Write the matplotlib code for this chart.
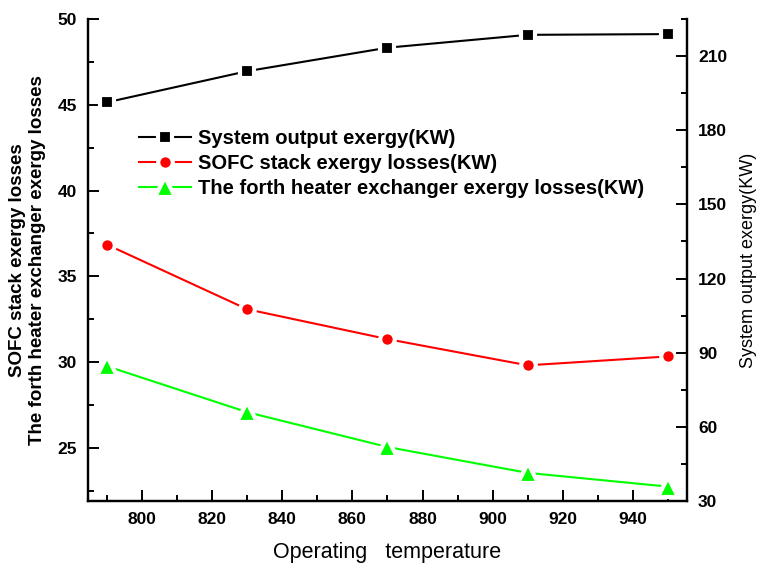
import matplotlib
matplotlib.use("Agg")
import matplotlib.pyplot as plt
from matplotlib.ticker import MultipleLocator

plt.rcParams['font.family'] = ['Liberation Sans', 'DejaVu Sans']

# data
temperature = [790, 830, 870, 910, 950]
system_output = [191.3, 203.9, 213.4, 218.6, 218.9]     # right axis
sofc_losses = [36.85, 33.08, 31.34, 29.81, 30.33]       # left axis
heater_losses = [29.76, 27.08, 25.05, 23.54, 22.74]     # left axis

labels = ["System output exergy(KW)",
          "SOFC stack exergy losses(KW)",
          "The forth heater exchanger exergy losses(KW)"]

fig = plt.figure(figsize=(7.57, 5.66), dpi=100)
ax = fig.add_axes([0.1162, 0.1148, 0.7913, 0.8516])
ax2 = ax.twinx()

style = dict(linewidth=1.5, markeredgecolor='white', markeredgewidth=3)
l1, = ax2.plot(temperature, system_output, color='black', marker='s', markersize=10,
               label=labels[0], **style)
l2, = ax.plot(temperature, sofc_losses, color='#ff0000', marker='o', markersize=10.5,
              label=labels[1], **style)
l3, = ax.plot(temperature, heater_losses, color='#00ff00', marker='^', markersize=14,
              label=labels[2], **style)

ax.set_xlim(784.6, 955.4)
ax.set_ylim(21.9, 50)
ax2.set_ylim(30, 225)

ax.xaxis.set_major_locator(MultipleLocator(20))
ax.xaxis.set_minor_locator(MultipleLocator(10))
ax.yaxis.set_major_locator(MultipleLocator(5))
ax.yaxis.set_minor_locator(MultipleLocator(2.5))
ax2.yaxis.set_major_locator(MultipleLocator(30))
ax2.yaxis.set_minor_locator(MultipleLocator(15))

for a in (ax, ax2):
    a.spines['top'].set_visible(False)
    for s in a.spines.values():
        s.set_linewidth(1.6)
    a.tick_params(which='major', direction='in', length=8, width=1.4, pad=8, labelsize=12.5)
    a.tick_params(which='minor', direction='in', length=4.5, width=1.4)
    for lab in a.get_yticklabels() + a.get_xticklabels():
        lab.set_fontweight('bold')
ax.tick_params(axis='y', right=False, which='both')

ax.set_xlabel("Operating   temperature", fontsize=15.5, labelpad=11)
ax.set_ylabel("SOFC stack exergy losses\nThe forth heater exchanger exergy losses",
              fontsize=13.5, fontweight='bold', labelpad=8, linespacing=1.25)
ax2.set_ylabel("System output exergy(KW)", fontsize=13, labelpad=9)

leg = ax.legend(handles=[l1, l2, l3], loc='upper left', bbox_to_anchor=(0.055, 0.81),
                frameon=False, handlelength=2.6, handletextpad=0.35,
                labelspacing=0.3, prop={'weight': 'bold', 'size': 14.5})

fig.savefig("out.png", dpi=100)
